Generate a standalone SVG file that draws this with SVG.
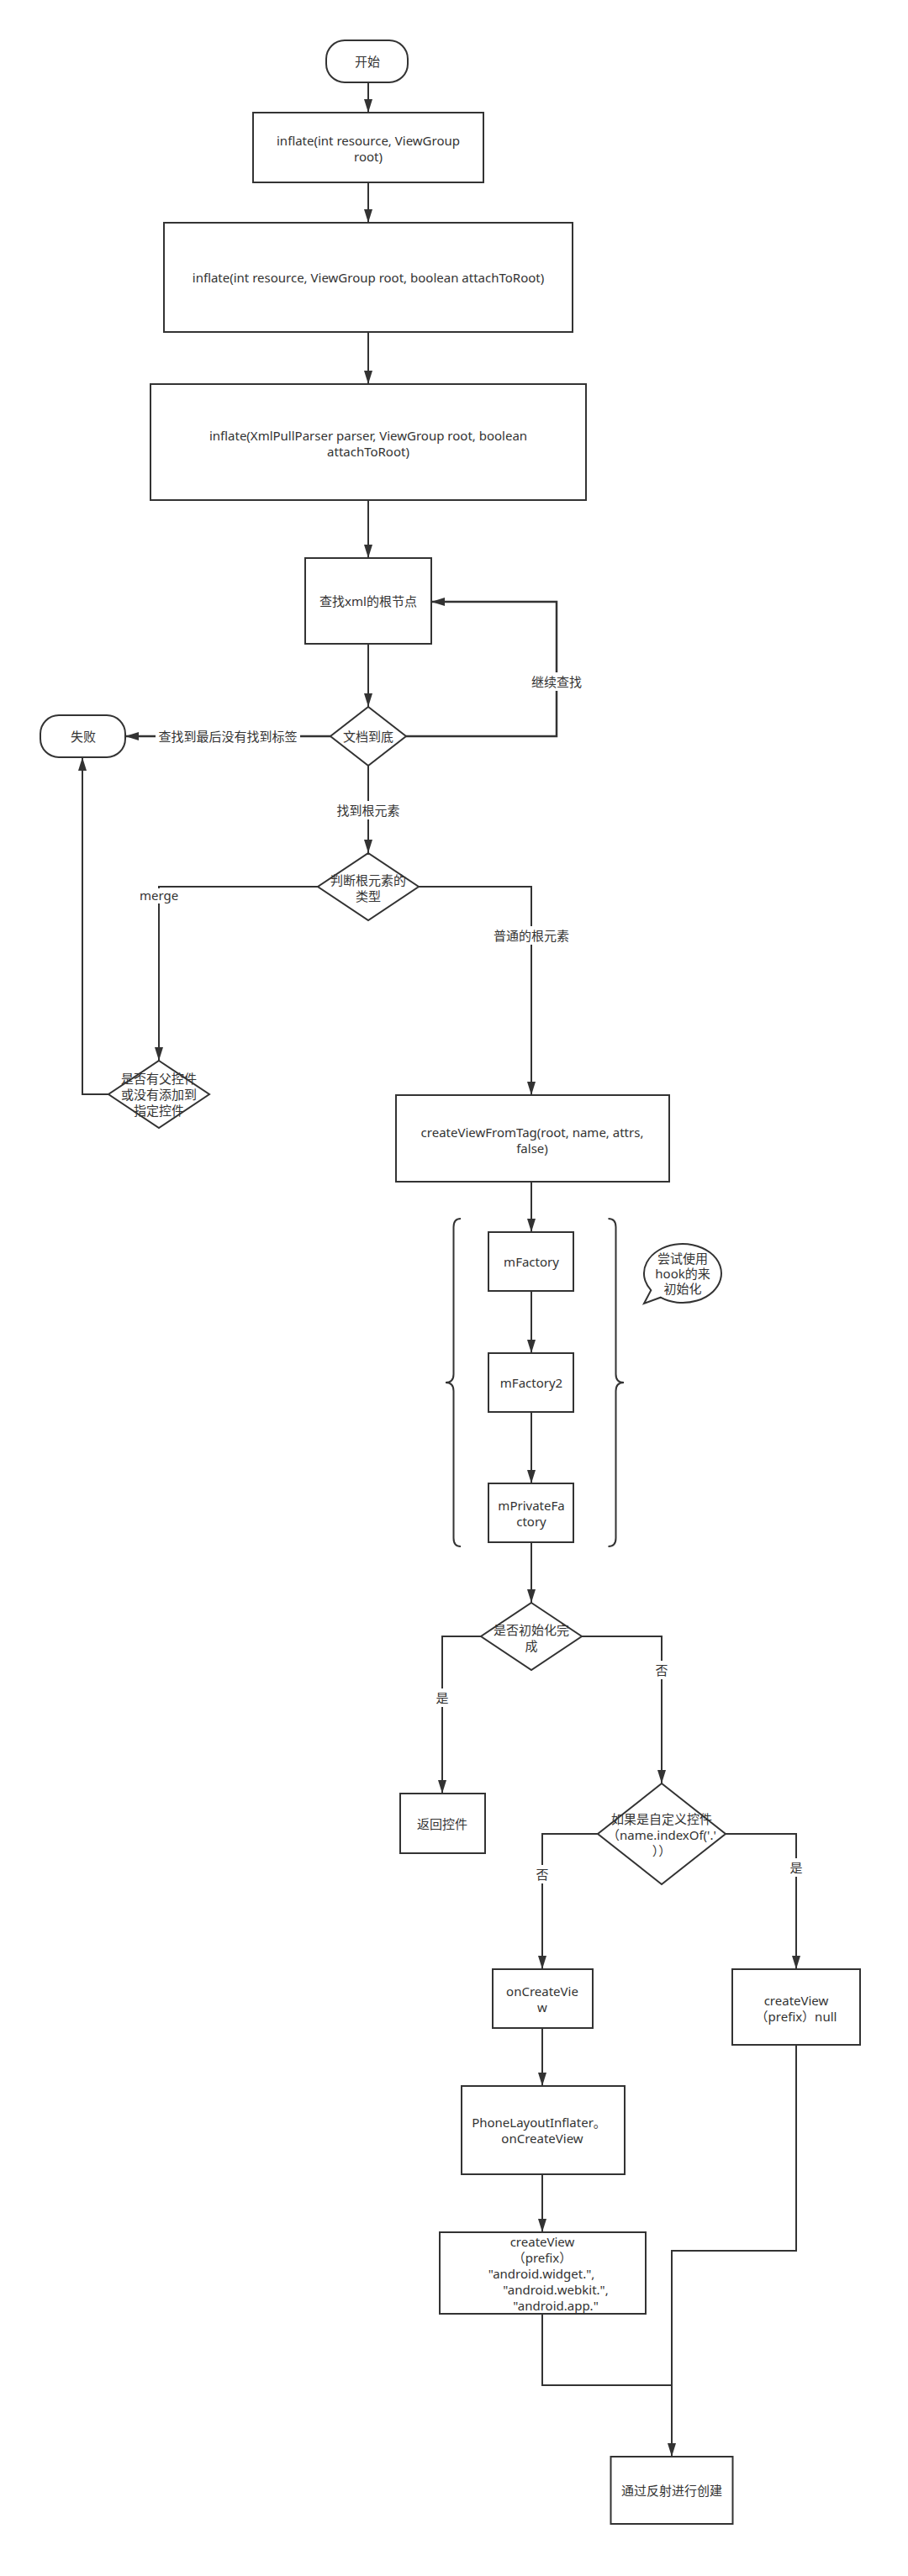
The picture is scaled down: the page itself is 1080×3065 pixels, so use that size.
<svg xmlns="http://www.w3.org/2000/svg" width="1080" height="3065" viewBox="0 0 1080 3065">
<style>
.n{fill:#fff;stroke:#333;stroke-width:2}
.c{fill:none;stroke:#333;stroke-width:2}
.t{font-family:"Noto Sans","Noto Sans CJK SC",sans-serif;font-size:15px;fill:#333;text-anchor:middle;dominant-baseline:central}
.bg{fill:#fff;stroke:none}
</style>
<defs>
<marker id="arr" viewBox="0 0 16 10" markerWidth="16" markerHeight="10" refX="16" refY="5" orient="auto" markerUnits="userSpaceOnUse">
<path d="M0,0 L16,5 L0,10 z" fill="#333"/>
</marker>
</defs>
<rect width="1080" height="3065" fill="#fff"/>
<g id="connectors">
<path class="c" d="M438,98 V134" marker-end="url(#arr)"/>
<path class="c" d="M438,217 V265" marker-end="url(#arr)"/>
<path class="c" d="M438,395 V457" marker-end="url(#arr)"/>
<path class="c" d="M438,595 V664" marker-end="url(#arr)"/>
<path class="c" d="M438,766 V841" marker-end="url(#arr)"/>
<path class="c" d="M483,876 H662 V716 H513" marker-end="url(#arr)" style="stroke-width:2.5"/>
<path class="c" d="M393,876 H149" marker-end="url(#arr)" style="stroke-width:2.5"/>
<path class="c" d="M438,911 V1015" marker-end="url(#arr)"/>
<path class="c" d="M378,1055 H189 V1262" marker-end="url(#arr)"/>
<path class="c" d="M129,1302 H98 V901" marker-end="url(#arr)"/>
<path class="c" d="M498,1055 H632 V1303" marker-end="url(#arr)"/>
<path class="c" d="M632,1406 V1466" marker-end="url(#arr)"/>
<path class="c" d="M632,1536 V1610" marker-end="url(#arr)"/>
<path class="c" d="M632,1680 V1765" marker-end="url(#arr)"/>
<path class="c" d="M632,1835 V1907" marker-end="url(#arr)"/>
<path class="c" d="M572,1947 H526 V2134" marker-end="url(#arr)"/>
<path class="c" d="M692,1947 H787 V2122" marker-end="url(#arr)"/>
<path class="c" d="M711,2182 H645 V2343" marker-end="url(#arr)"/>
<path class="c" d="M863,2182 H947 V2343" marker-end="url(#arr)"/>
<path class="c" d="M645,2413 V2482" marker-end="url(#arr)"/>
<path class="c" d="M645,2587 V2656" marker-end="url(#arr)"/>
<path class="c" d="M947,2433 V2678 H799 V2923" marker-end="url(#arr)"/>
<path class="c" d="M645,2753 V2838 H799"/>
<g id="labels">
<rect class="bg" x="631" y="800" width="62" height="22"/>
<text class="t" x="662" y="811">继续查找</text>
<rect class="bg" x="185" y="865" width="172" height="22"/>
<text class="t" x="271" y="876">查找到最后没有找到标签</text>
<rect class="bg" x="400" y="953" width="76" height="22"/>
<text class="t" x="438" y="964">找到根元素</text>
<rect class="bg" x="166" y="1057" width="46" height="18"/>
<text class="t" x="189" y="1065">merge</text>
<rect class="bg" x="586" y="1102" width="92" height="22"/>
<text class="t" x="632" y="1113">普通的根元素</text>
<rect class="bg" x="517" y="2009" width="18" height="22"/>
<text class="t" x="526" y="2020">是</text>
<rect class="bg" x="778" y="1976" width="18" height="22"/>
<text class="t" x="787" y="1987">否</text>
<rect class="bg" x="636" y="2219" width="18" height="22"/>
<text class="t" x="645" y="2230">否</text>
<rect class="bg" x="938" y="2211" width="18" height="22"/>
<text class="t" x="947" y="2222">是</text>
</g>
</g>
<g id="start"><rect class="n" x="388" y="48" width="97" height="50" rx="22"/><text class="t" x="437" y="73">开始</text></g>
<g id="inflate1"><rect class="n" x="301" y="134" width="274" height="83"/><text class="t" x="438" y="167">inflate(int resource, ViewGroup</text><text class="t" x="438" y="186">root)</text></g>
<g id="inflate2"><rect class="n" x="195" y="265" width="486" height="130"/><text class="t" x="438" y="330">inflate(int resource, ViewGroup root, boolean attachToRoot)</text></g>
<g id="inflate3"><rect class="n" x="179" y="457" width="518" height="138"/><text class="t" x="438" y="518">inflate(XmlPullParser parser, ViewGroup root, boolean</text><text class="t" x="438" y="537">attachToRoot)</text></g>
<g id="findRoot"><rect class="n" x="363" y="664" width="150" height="102"/><text class="t" x="438" y="715">查找xml的根节点</text></g>
<g id="docEnd"><polygon class="n" points="438,841 483,876 438,911 393,876"/><text class="t" x="438" y="876">文档到底</text></g>
<g id="fail"><rect class="n" x="48" y="851" width="101" height="50" rx="22"/><text class="t" x="99" y="876">失败</text></g>
<g id="rootType"><polygon class="n" points="438,1015 498,1055 438,1095 378,1055"/><text class="t" x="438" y="1047">判断根元素的</text><text class="t" x="438" y="1066">类型</text></g>
<g id="hasParent"><polygon class="n" points="189,1262 249,1302 189,1342 129,1302"/><text class="t" x="189" y="1283">是否有父控件</text><text class="t" x="189" y="1302">或没有添加到</text><text class="t" x="189" y="1321">指定控件</text></g>
<g id="createViewFromTag"><rect class="n" x="471" y="1303" width="325" height="103"/><text class="t" x="633" y="1347">createViewFromTag(root, name, attrs,</text><text class="t" x="633" y="1366">false)</text></g>
<g id="braces">
<path class="c" d="M548,1450 Q539.5,1450 539.5,1460 V1635 Q539.5,1645 530,1645 Q539.5,1645 539.5,1655 V1830 Q539.5,1840 548,1840"/>
<path class="c" d="M723.5,1450 Q732.5,1450 732.5,1460 V1635 Q732.5,1645 742,1645 Q732.5,1645 732.5,1655 V1830 Q732.5,1840 723.5,1840"/>
</g>
<g id="mFactory"><rect class="n" x="581" y="1466" width="101" height="70"/><text class="t" x="632" y="1501">mFactory</text></g>
<g id="mFactory2"><rect class="n" x="581" y="1610" width="101" height="70"/><text class="t" x="632" y="1645">mFactory2</text></g>
<g id="mPrivateFactory"><rect class="n" x="581" y="1765" width="101" height="70"/><text class="t" x="632" y="1791">mPrivateFa</text><text class="t" x="632" y="1810">ctory</text></g>
<g id="hookNote"><path class="n" d="M785.6,1543.7 L766,1551 L774.3,1535.1 A46,35 0 1 1 785.6,1543.7 z"/><text class="t" x="812" y="1497">尝试使用</text><text class="t" x="812" y="1515">hook的来</text><text class="t" x="812" y="1533">初始化</text></g>
<g id="initDone"><polygon class="n" points="632,1907 692,1947 632,1987 572,1947"/><text class="t" x="632" y="1939">是否初始化完</text><text class="t" x="632" y="1958">成</text></g>
<g id="returnView"><rect class="n" x="476" y="2134" width="101" height="71"/><text class="t" x="526" y="2170">返回控件</text></g>
<g id="customView"><polygon class="n" points="787,2122 863,2182 787,2242 711,2182"/><text class="t" x="787" y="2164">如果是自定义控件</text><text class="t" x="787" y="2183">（name.indexOf('.'</text><text class="t" x="787" y="2202">））</text></g>
<g id="onCreateView"><rect class="n" x="586" y="2343" width="119" height="70"/><text class="t" x="645" y="2369">onCreateVie</text><text class="t" x="645" y="2388">w</text></g>
<g id="createViewNull"><rect class="n" x="871" y="2343" width="152" height="90"/><text class="t" x="947" y="2380">createView</text><text class="t" x="947" y="2399">（prefix）null</text></g>
<g id="phoneInflater"><rect class="n" x="549" y="2482" width="194" height="105"/><text class="t" x="641" y="2525">PhoneLayoutInflater。</text><text class="t" x="645" y="2544">onCreateView</text></g>
<g id="createViewPrefix"><rect class="n" x="523" y="2656" width="245" height="97"/><text class="t" x="645" y="2667">createView</text><text class="t" x="645" y="2686">（prefix）</text><text class="t" x="644" y="2705">"android.widget.",</text><text class="t" x="661" y="2724">"android.webkit.",</text><text class="t" x="661" y="2743">"android.app."</text></g>
<g id="reflect"><rect class="n" x="726.5" y="2923" width="145" height="80"/><text class="t" x="799" y="2963">通过反射进行创建</text></g>
</svg>
